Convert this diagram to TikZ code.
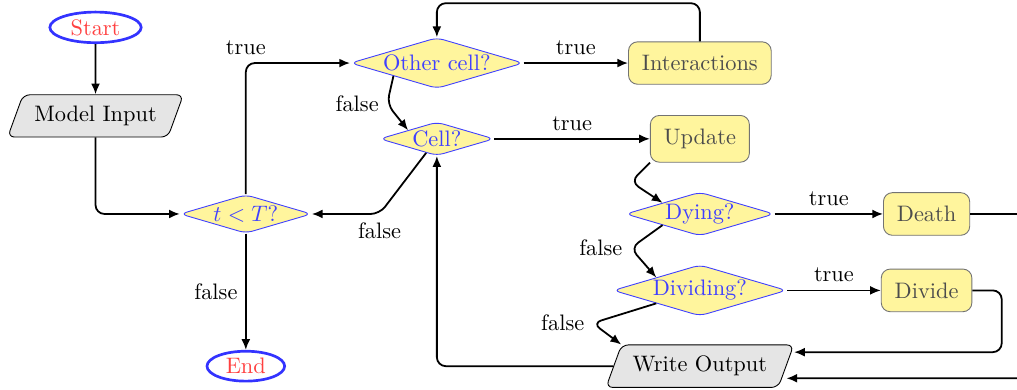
\documentclass[tikz,border=0pt]{standalone}
\usetikzlibrary{shapes.geometric,arrows.meta}
\definecolor{paleyellow}{HTML}{FFF59D}

\begin{document}
\begin{tikzpicture}[
		terminal/.style={ellipse,draw=blue!80,very thick,text=red!75,inner xsep=3.3pt,inner ysep=1.2pt},
		inout/.style={trapezium,trapezium left angle=70,trapezium right angle=110,draw,fill=black!10,rounded corners=3pt,inner sep=5pt},
		decision/.style={diamond,aspect=3.4,draw=blue!75,fill=paleyellow,text=blue!75,inner xsep=0.5pt,inner ysep=0.5pt,rounded corners=3pt},
		process/.style={rectangle,draw=black!55,fill=paleyellow,text=black!70,rounded corners=4pt,inner sep=6pt},
		flow/.style={draw,thick,-{Latex[length=4.8pt,width=4pt]},rounded corners=4pt}]
		\useasboundingbox (0,0) rectangle (15.97,6.11);
		\clip (0,0) rectangle (15.97,6.11);
		\node[terminal] (start) at (1.5,5.68) {Start};
		\node[inout] (input) at (1.5,4.29) {Model Input};
		\node[decision] (tT) at (3.86,2.75) {$t<T$?};
		\node[terminal] (end) at (3.86,0.36) {End};
		\node[decision] (othercell) at (6.86,5.12) {Other cell?};
		\node[decision] (cell) at (6.86,3.93) {Cell?};
		\node[process] (interact) at (10.99,5.12) {Interactions};
		\node[process] (update) at (10.99,3.93) {Update};
		\node[decision] (dying) at (10.99,2.75) {Dying?};
		\node[process] (death) at (14.55,2.75) {Death};
		\node[decision] (dividing) at (10.99,1.55) {Dividing?};
		\node[process] (divide) at (14.55,1.55) {Divide};
		\node[inout] (writeout) at (10.99,0.36) {Write Output};

		\draw[flow] (start) -- (input);
		\draw[flow] (input) |- (tT);
		\draw[flow] (tT) |- node[above] {true} (othercell);
		\draw[flow] (tT) -- node[left] {false} (end);
		\draw[flow] (othercell) -- node[above] {true} (interact);
		\draw[flow] (interact.north) -- ++(0,0.6) -| (othercell.north);
		\draw[flow] (othercell.south west) -- ++(-0.1,-0.44) node[left] {false} -- (cell.north west);
		\draw[flow] (cell) -- node[above] {true} (update);
		\draw[flow] (cell) -- ++(-0.9,-1.18) node[below] {false} -- (tT);
		\draw[flow] (update.south west) -- ++(-0.3,-0.3) -- (dying.north west);
		\draw[flow] (dying) -- node[above] {true} (death);
		\draw[flow] (dying.south west) -- ++(-0.5,-0.36) node[left] {false} -- (dividing.north west);
		\draw[flow] (dividing) -- node[above] {true} (divide);
		\draw[flow] (dividing.south west) -- ++(-1.0,-0.31) node[left] {false} -- (writeout.top left corner);
		\draw[flow] (divide) -- ++(1.18,0) |- ([xshift=0.12cm,yshift=0.22cm]writeout.east);
		\draw[flow] (death) -- ++(2,0) |- ([yshift=-0.19cm]writeout.east);
		\draw[flow] (writeout) -| (cell);
	\end{tikzpicture}
\end{document}
